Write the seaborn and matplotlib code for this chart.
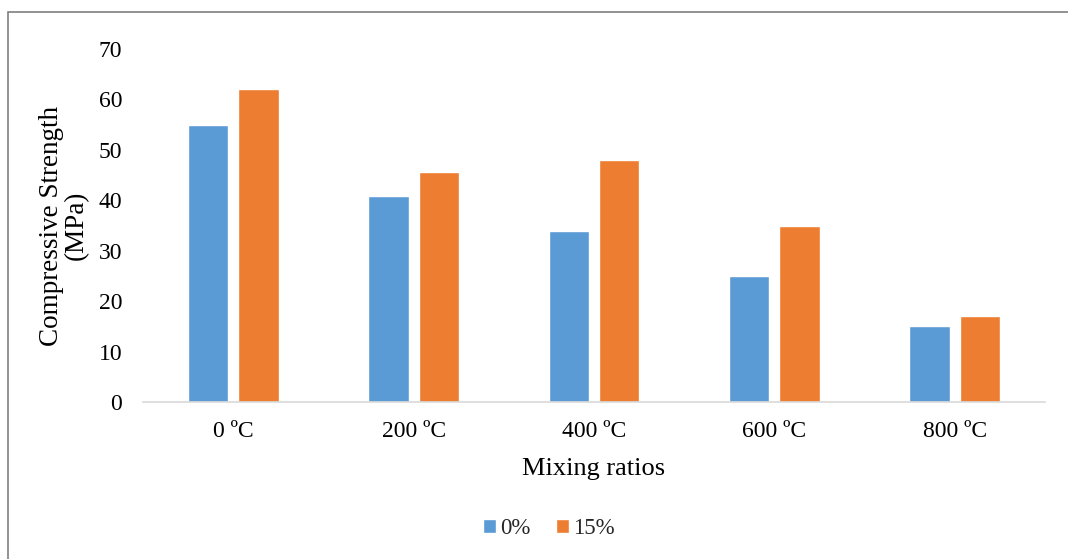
import matplotlib
matplotlib.use("Agg")
import matplotlib.pyplot as plt
import seaborn as sns
import pandas as pd
from matplotlib.patches import Rectangle

categories = ["0 ºC", "200 ºC", "400 ºC", "600 ºC", "800 ºC"]
series_names = ["0%", "15%"]
values_0 = [55, 40.8, 34, 25, 15]
values_15 = [62, 45.6, 48, 35, 17]
colors = ["#5B9BD5", "#ED7D31"]

df = pd.DataFrame({
    "cat": categories * 2,
    "series": [series_names[0]] * len(categories) + [series_names[1]] * len(categories),
    "val": values_0 + values_15,
})

sns.set_theme(style="white")
plt.rcParams["font.family"] = ["Liberation Serif", "DejaVu Serif"]

fig = plt.figure(figsize=(10.68, 5.59), dpi=100)
ax = fig.add_axes([143/1068, 1-402/559, 902/1068, 353/559])

sns.barplot(data=df, x="cat", y="val", hue="series", palette=colors, order=categories,
            hue_order=series_names, width=0.56, gap=0.2, ax=ax, saturation=1, errorbar=None)

ax.set_xlim(-0.5, 4.5)
ax.set_ylim(0, 70)
ax.set_yticks(range(0, 71, 10))
ax.tick_params(axis="both", length=0, labelsize=17, colors="black")
ax.tick_params(axis="x", pad=14)
ax.tick_params(axis="y", pad=15)
for s in ["top", "right", "left"]:
    ax.spines[s].set_visible(False)
ax.spines["bottom"].set_color("#D9D9D9")
ax.spines["bottom"].set_linewidth(1.2)
ax.grid(False)

ax.set_xlabel("Mixing ratios", fontsize=19, color="black", labelpad=11)
ax.set_ylabel("Compressive Strength\n(MPa)", fontsize=19.5, color="black", labelpad=7,
              linespacing=1.0)

handles, labels = ax.get_legend_handles_labels()
ax.legend(handles, labels, loc="center", bbox_to_anchor=(549/1068, 1-529/559),
          bbox_transform=fig.transFigure, ncol=2, frameon=False, fontsize=16.5,
          handlelength=0.55, handleheight=0.55, handletextpad=0.2, columnspacing=1.1)

fig.patches.append(Rectangle((8/1068, -0.05), 1.1, 1-12/559+0.05, transform=fig.transFigure,
                             fill=False, edgecolor="#7F7F7F", linewidth=1.2, figure=fig))

fig.savefig("out.png", dpi=100)
